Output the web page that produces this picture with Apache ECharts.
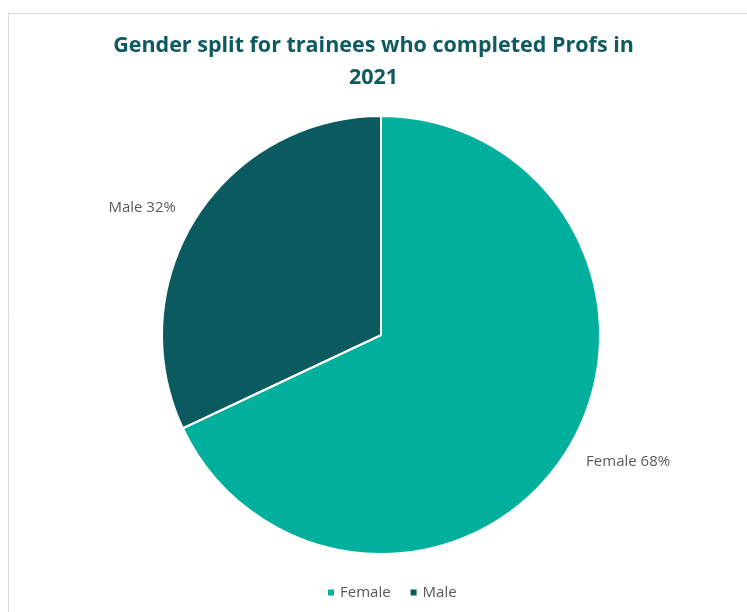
<!DOCTYPE html>
<html><head><meta charset="utf-8">
<script src="https://cdn.jsdelivr.net/npm/echarts@6/dist/echarts.min.js"></script>
<style>html,body{margin:0;padding:0;background:#fff}#c{width:747px;height:612px}</style>
</head><body><div id="c"></div>
<script>
const categories = ['Female', 'Male'];
const values = [68, 32];
const colors = ['#00B09C', '#0B5A60'];
const titleText = 'Gender split for trainees who completed Profs in\n2021';

const chart = echarts.init(document.getElementById('c'));
chart.setOption({
  animation: false,
  backgroundColor: '#fff',
  graphic: [{
    type: 'rect', shape: {x: 8.5, y: 13.5, width: 760, height: 620},
    style: {fill: 'none', stroke: '#d9d9d9', lineWidth: 1}, silent: true, z: -1
  }],
  title: {
    text: titleText, left: 'center', top: 25,
    textStyle: {fontFamily: 'Open Sans', fontSize: 21.5, fontWeight: 'bold', color: '#0E5A60', lineHeight: 32}
  },
  legend: {
    bottom: 7, left: 321, icon: 'rect', itemWidth: 8, itemHeight: 8, itemGap: 18, itemTextGap: 4,
    textStyle: {fontFamily: 'Open Sans', fontSize: 15, color: '#595959'},
    data: categories
  },
  series: [{
    type: 'pie', center: [381, 335], radius: 219, startAngle: 90, clockwise: true,
    itemStyle: {borderColor: '#fff', borderWidth: 2},
    label: {show: true, position: 'outside', formatter: '{b} {c}%',
      fontFamily: 'Open Sans', fontSize: 15, color: '#595959'},
    labelLine: {show: false, length: 18, length2: 0},
    data: categories.map((c, i) => ({name: c, value: values[i], itemStyle: {color: colors[i]}}))
  }]
});
</script></body></html>
